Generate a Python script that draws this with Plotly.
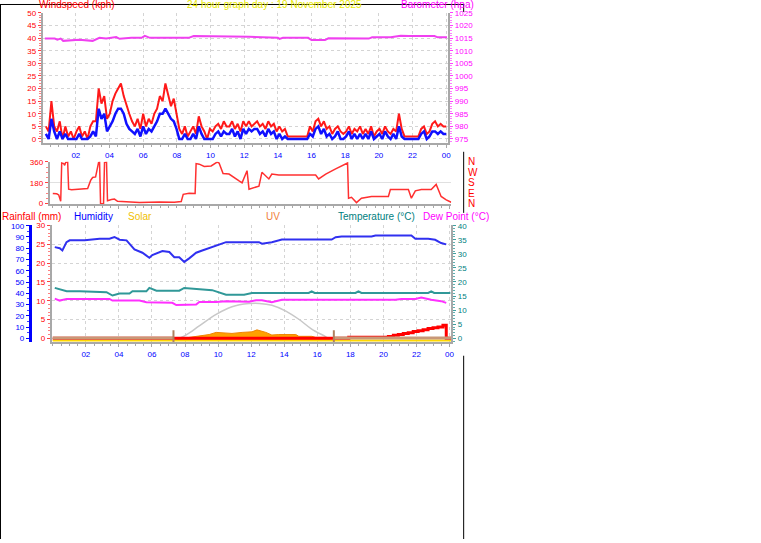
import numpy as np
import plotly.graph_objects as go

W, H = 761, 543
def px(x): return x / W
def py(y): return 1 - y / H

FONT = "Liberation Sans"

# ---------------- data ----------------
hour_ticks = [2, 4, 6, 8, 10, 12, 14, 16, 18, 20, 22, 24]
hour_labels = ["02", "04", "06", "08", "10", "12", "14", "16", "18", "20", "22", "00"]
half_hours = list(np.arange(0, 24.5, 0.5))

# wind, 10-minute samples
wind_time = np.linspace(0.22, 24.0, 145)
wind_gust = [
    5, 3, 15, 5, 3, 7,
    0, 5, 1, 3, 0, 3,
    5, 1, 3, 0, 5, 7,
    7, 20, 14, 17, 8, 10,
    15, 18, 20, 22, 17, 13,
    10, 7, 5, 8, 4, 10,
    5, 8, 6, 10, 12, 17,
    15, 22, 18, 13, 16, 10,
    4, 2, 5, 1, 3, 5,
    2, 9, 5, 3, 0, 4,
    3, 5, 6, 4, 7, 5,
    5, 7, 4, 6, 3, 7,
    5, 7, 5, 6, 7, 5,
    6, 4, 7, 5, 6, 3,
    5, 3, 4, 1, 1, 1,
    1, 1, 1, 1, 1, 5,
    3, 7, 8, 5, 7, 4,
    5, 2, 4, 5, 3, 2,
    3, 5, 2, 4, 3, 5,
    2, 4, 2, 5, 1, 3,
    4, 2, 5, 3, 2, 4,
    3, 10, 4, 1, 1, 1,
    1, 1, 1, 4, 5, 2,
    3, 6, 7, 5, 6, 5,
    5]
wind_avg = [
    2, 0, 8, 3, 0, 3,
    0, 2, 0, 0, 0, 0,
    2, 0, 0, 0, 1, 3,
    1, 12, 8, 10, 3, 5,
    7, 10, 12, 12, 10, 6,
    4, 3, 2, 4, 1, 5,
    2, 4, 3, 5, 7, 10,
    10, 12, 10, 8, 7, 4,
    0, 0, 2, 0, 0, 2,
    0, 5, 2, 0, 0, 0,
    0, 2, 3, 1, 3, 2,
    2, 4, 1, 3, 0, 4,
    2, 4, 3, 4, 4, 2,
    3, 1, 4, 2, 3, 0,
    2, 0, 1, 0, 0, 0,
    0, 0, 0, 0, 0, 2,
    1, 4, 5, 2, 4, 1,
    2, 0, 1, 3, 0, 0,
    1, 3, 0, 2, 0, 2,
    0, 2, 0, 3, 0, 1,
    2, 0, 3, 1, 0, 2,
    0, 5, 1, 0, 0, 0,
    0, 0, 0, 2, 3, 0,
    1, 3, 3, 2, 3, 2,
    2]

baro_time = [0.16, 0.75, 0.9, 1.1, 1.25, 2.2, 3.0, 3.4, 3.8, 4.4, 4.6, 5.3, 5.9, 6.1,
             6.4, 7.5, 8.7, 9.0, 11.2, 11.7, 12.3, 14.0, 14.1, 14.3, 15.8, 16.0, 16.8,
             17.0, 17.8, 17.9, 18.6, 18.8, 19.4, 19.6, 20.7, 21.3, 21.8, 23.3, 23.5, 24.05]
baro_hpa = [1014.8, 1014.8, 1014.4, 1014.8, 1013.9, 1014.3, 1013.9, 1015.1, 1014.8, 1015.4,
            1014.7, 1015.1, 1015.1, 1015.9, 1015.1, 1015.1, 1015.1, 1015.8, 1015.8, 1015.5,
            1015.5, 1015.1, 1014.7, 1015.1, 1015.1, 1014.2, 1014.2, 1014.9, 1014.9, 1014.6,
            1014.6, 1014.8, 1014.8, 1015.3, 1015.3, 1015.9, 1015.8, 1015.8, 1015.3, 1015.3]

dir_time = [0.0, 0.24, 0.36, 0.42, 0.48, 0.54, 0.66, 0.72, 0.78, 0.90, 0.96, 1.14, 1.63, 2.11,
            2.29, 2.41, 2.59, 2.77, 2.83, 2.89, 3.07, 3.13, 3.25, 3.31, 3.55, 3.73, 3.92, 4.34,
            5.24, 6.45, 7.35, 7.77, 7.89, 8.25, 8.61, 8.67, 8.86, 9.16, 9.58, 9.94, 10.06, 10.30,
            10.66, 11.27, 11.45, 11.75, 11.87, 12.47, 12.65, 13.07, 13.25, 13.67, 14.88, 15.90,
            16.08, 16.51, 17.11, 17.77, 17.83, 17.89, 18.07, 18.37, 18.67, 19.28, 20.30, 20.42,
            21.51, 21.69, 21.93, 22.29, 22.89, 23.19, 23.49, 23.80, 24.10]
dir_deg = [88, 85, 75, 40, 20, 350, 345, 330, 355, 360, 125, 120, 125, 130,
           200, 225, 230, 355, 360, 0, 0, 355, 360, 25, 35, 40, 20, 15,
           10, 15, 12, 18, 80, 90, 88, 345, 340, 320, 325, 358, 350, 260,
           255, 196, 180, 284, 125, 151, 270, 213, 255, 246, 246, 246,
           213, 255, 300, 344, 350, 47, 55, 9, 47, 62, 62, 122,
           122, 47, 110, 122, 122, 166, 62, 33, 12]

hum_time = [0.12, 0.42, 0.58, 0.83, 1.02, 1.93, 2.83, 3.43, 3.73, 4.04, 4.46, 4.64, 4.94, 5.42,
            5.84, 6.02, 6.63, 7.05, 7.35, 7.65, 7.95, 8.25, 8.67, 9.04, 9.64, 10.48, 12.47,
            12.65, 13.25, 13.86, 16.87, 17.11, 17.47, 19.28, 19.52, 21.69, 21.93, 22.71, 23.13,
            23.49, 23.80]
hum_pct = [81, 80, 78, 85.4, 87, 87, 88.5, 88.5, 90, 87.6, 87, 84, 79, 76,
           71.6, 74, 77.5, 76.6, 72, 72, 67.9, 71, 76, 78, 81, 85.4, 85.4,
           84, 85.4, 87.7, 87.7, 89.8, 90.4, 90.4, 91.3, 91.3, 88.5, 88.5, 87.5,
           84.6, 83.4]

temp_time = [0.12, 0.42, 0.84, 1.63, 2.53, 3.25, 3.61, 4.04, 4.64, 4.82, 5.66, 5.84, 6.27, 7.65,
             7.95, 8.86, 9.64, 10.48, 11.57, 12.05, 15.48, 15.66, 15.84, 18.31, 18.49, 18.67,
             22.71, 22.89, 23.07, 24.05]
temp_c = [17.9, 17.5, 16.7, 16.7, 16.4, 16.4, 15.2, 15.9, 15.9, 16.7, 16.7, 17.9, 16.9, 16.9,
          17.9, 17.4, 17.1, 15.5, 15.5, 16.1, 16.1, 16.7, 16.1, 16.1, 16.7, 16.1,
          16.1, 16.7, 16.1, 16.1]

dew_time = [0.12, 0.42, 0.84, 3.43, 3.61, 5.24, 5.66, 6.02, 6.45, 7.23, 7.47, 8.07, 8.67, 8.86,
            9.88, 10.48, 11.87, 12.29, 12.65, 13.25, 13.86, 20.72, 21.08, 21.93, 22.29, 22.89,
            23.49, 23.80]
dew_c = [14.1, 13.4, 14.0, 14.0, 13.4, 13.4, 12.8, 12.8, 12.6, 12.6, 11.8, 11.8, 12.0, 12.9,
         12.9, 13.2, 13.0, 13.5, 13.5, 12.8, 13.7, 13.7, 14.0, 14.0, 14.5, 13.7,
         13.2, 12.6]

rain_time = [0.0, 17.9, 20.3, 20.6, 20.9, 21.2, 21.5, 21.8, 22.1, 22.4, 22.7, 23.0, 23.3, 23.6, 23.8, 24.1]
rain_mm = [0.0, 0.3, 0.5, 0.8, 1.0, 1.3, 1.5, 1.8, 2.0, 2.3, 2.6, 2.8, 3.0, 3.5, 0.0, 0.0]

solar_max_time = [7.35, 8.07, 8.86, 9.88, 10.84, 11.87, 12.5, 13.25, 14.1, 14.88, 15.66, 16.5, 16.87]
solar_max = [0, 60, 155, 278, 359, 393, 395, 375, 313, 226, 121, 40, 0]

solar_time = [0.0, 7.35, 7.95, 8.86, 9.46, 9.88, 10.36, 10.84, 11.45, 11.87, 12.05, 12.35, 12.59,
              12.89, 13.25, 13.67, 14.7, 14.88, 15.66, 15.9, 16.5, 16.8, 24.1]
solar_wm2 = [0, 0, 25, 44, 63, 86, 78, 75, 86, 88, 92, 113, 103,
             86, 58, 63, 63, 44, 44, 33, 33, 0, 0]

uv_time = [0.0, 7.3, 12.0, 17.0, 24.1]
uv_index = [0, 0, None, 0, 0]

sun_events = [7.3, 17.0]

# ---------------- figure ----------------
fig = go.Figure()

# panel 1
fig.add_trace(go.Scatter(x=wind_time, y=wind_gust, mode="lines", xaxis="x", yaxis="y",
                         line=dict(color="rgba(255,0,0,0.9)", width=2)))
fig.add_trace(go.Scatter(x=wind_time, y=wind_avg, mode="lines", xaxis="x", yaxis="y",
                         line=dict(color="#1010ff", width=2.5)))
fig.add_trace(go.Scatter(x=baro_time, y=baro_hpa, mode="lines", xaxis="x", yaxis="y2",
                         line=dict(color="#f040f0", width=2)))
# panel 2
fig.add_trace(go.Scatter(x=dir_time, y=dir_deg, mode="lines", xaxis="x2", yaxis="y3",
                         line=dict(color="#ff3030", width=1.5)))
# panel 3 (base: solar)
fig.add_trace(go.Scatter(x=solar_max_time, y=solar_max, mode="lines", xaxis="x3", yaxis="y4",
                         line=dict(color="#c8c8c8", width=1.5, shape="spline")))
fig.add_trace(go.Scatter(x=solar_time, y=solar_wm2, mode="lines", xaxis="x3", yaxis="y4",
                         fill="tozeroy", fillcolor="#ffa000",
                         line=dict(color="#f08400", width=1)))
fig.add_trace(go.Scatter(x=[solar_time[0], solar_time[-1]], y=[solar_wm2[0], solar_wm2[-1]],
                         mode="lines", xaxis="x3", yaxis="y4",
                         line=dict(color="#ffd800", width=2)))
fig.add_trace(go.Scatter(x=rain_time, y=rain_mm, mode="lines", xaxis="x3", yaxis="y5",
                         line=dict(color="#ff0000", width=3, shape="hv")))
fig.add_trace(go.Scatter(x=hum_time, y=hum_pct, mode="lines", xaxis="x3", yaxis="y6",
                         line=dict(color="#3030f0", width=2)))
fig.add_trace(go.Scatter(x=temp_time, y=temp_c, mode="lines", xaxis="x3", yaxis="y7",
                         line=dict(color="#309898", width=2)))
fig.add_trace(go.Scatter(x=dew_time, y=dew_c, mode="lines", xaxis="x3", yaxis="y7",
                         line=dict(color="#ff30ff", width=2)))
fig.add_trace(go.Scatter(x=uv_time, y=uv_index, mode="lines", xaxis="x3", yaxis="y8",
                         line=dict(color="#c89878", width=3)))

GRAY = "#a8a8a8"
GRID = "#d4d4d4"
tickfont = lambda c: dict(family=FONT, size=8, color=c)

def xaxis_cfg(dom, rng, anchor, labels=True, grid=True):
    return dict(domain=dom, range=rng, anchor=anchor, tickmode="array",
                tickvals=hour_ticks, ticktext=hour_labels, showticklabels=labels,
                tickfont=tickfont("#0000ff"), ticks="outside", ticklen=3, tickcolor=GRAY,
                showline=True, linecolor=GRAY, linewidth=2, zeroline=False,
                showgrid=grid, gridcolor=GRID, griddash="dot", gridwidth=1,
                minor=dict(tickmode="array", tickvals=half_hours, ticks="outside",
                           ticklen=2, tickcolor=GRAY, showgrid=False))

def yaxis_cfg(**kw):
    base = dict(zeroline=False, showline=True, linecolor=GRAY, linewidth=2,
                ticks="outside", ticklen=3, showgrid=False)
    base.update(kw)
    return base

d1 = [py(141), py(9)]
d2 = [py(203), py(160)]
d3 = [py(343), py(224)]

fig.update_layout(
    width=W, height=H, margin=dict(l=0, r=0, t=0, b=0),
    paper_bgcolor="white", plot_bgcolor="white", showlegend=False,
    xaxis=xaxis_cfg([px(43), px(450)], [0.04, 24.12], "y"),
    xaxis2=xaxis_cfg([px(50), px(453)], [-0.18, 24.1], "y3", labels=False, grid=False),
    xaxis3=xaxis_cfg([px(52), px(453)], [-0.06, 24.1], "y4"),
    yaxis=yaxis_cfg(domain=d1, range=[-1.56, 50], anchor="x", tickmode="linear", tick0=0, dtick=5,
                    tickfont=tickfont("#ff0000"), tickcolor="#ff4040",
                    showgrid=True, gridcolor=GRID, griddash="dot",
                    minor=dict(dtick=1, ticks="outside", ticklen=2, tickcolor="#ff8080")),
    yaxis2=yaxis_cfg(overlaying="y", side="right", anchor="x", range=[973.44, 1025],
                     tickmode="linear", tick0=975, dtick=5, tickfont=tickfont("#ff00ff"),
                     tickcolor="#ff40ff",
                     minor=dict(dtick=1, ticks="outside", ticklen=2, tickcolor="#ff80ff")),
    yaxis3=yaxis_cfg(domain=d2, range=[-3, 362], anchor="x2", tickmode="array",
                     tickvals=[0, 180, 360], ticktext=["0", "180", "360"],
                     tickfont=tickfont("#ff0000"), tickcolor="#ff4040",
                     showgrid=True, gridcolor="#e0e0e0",
                     minor=dict(tickmode="linear", tick0=0, dtick=45, ticks="outside",
                                ticklen=2, tickcolor="#ff8080")),
    yaxis4=dict(domain=d3, range=[-15.75, 1233.6], anchor="x3", visible=False),
    yaxis5=yaxis_cfg(overlaying="y4", anchor="x3", side="left", range=[-0.97, 30.26],
                     tickmode="linear", tick0=0, dtick=5, tickfont=tickfont("#ff0000"),
                     tickcolor="#ff4040", showgrid=True, gridcolor=GRID, griddash="dot",
                     minor=dict(dtick=1, ticks="outside", ticklen=2, tickcolor="#ff8080")),
    yaxis6=yaxis_cfg(overlaying="y4", anchor="free", position=px(30), side="left",
                     range=[-3.23, 100.9], tickmode="linear", tick0=0, dtick=10,
                     tickfont=tickfont("#0000ff"), tickcolor="#0000ff",
                     linecolor="#0000ff", linewidth=3,
                     minor=dict(dtick=5, ticks="outside", ticklen=2, tickcolor="#4040ff")),
    yaxis7=yaxis_cfg(overlaying="y4", anchor="x3", side="right", range=[-1.29, 40.35],
                     tickmode="linear", tick0=0, dtick=5, tickfont=tickfont("#008080"),
                     tickcolor="#40a0a0",
                     minor=dict(dtick=1, ticks="outside", ticklen=2, tickcolor="#60b0b0")),
    yaxis8=dict(overlaying="y4", anchor="x3", range=[-0.35, 10], visible=False),
)

# sunrise / sunset markers
for t in sun_events:
    fig.add_shape(type="line", xref="x3", yref="y4 domain", x0=t, x1=t, y0=0, y1=0.1,
                  line=dict(color="#b08060", width=2))

# black page borders
for (x0, y0, x1, y1) in [(0.5, 0, 0.5, 543), (0, 0.5, 466, 0.5),
                         (465.5, 0, 465.5, 8), (465.5, 150, 465.5, 212), (465.5, 357, 465.5, 543)]:
    fig.add_shape(type="line", xref="paper", yref="paper", x0=px(x0), x1=px(x1),
                  y0=py(y0), y1=py(y1), line=dict(color="black", width=1), layer="above")

def label(text, x, y, color, anchor="left", size=10):
    fig.add_annotation(text=text, xref="paper", yref="paper", x=px(x), y=py(y),
                       xanchor=anchor, yanchor="middle", showarrow=False,
                       font=dict(family=FONT, size=size, color=color))

label("Windspeed (kph)", 37, 0.5, "#ff0000")
label("24 hour graph day : 19 November 2025", 186, 0.5, "#e8e800")
label("Barometer (hpa)", 401, 0.5, "#ff00ff")
label("Rainfall (mm)", 0, 215.5, "#ff0000")
label("Humidity", 72, 215.5, "#0000ff")
label("Solar", 127, 215.5, "#f0c000")
label("UV", 265, 215.5, "#f08040")
label("Temperature (°C)", 337, 215.5, "#008080")
label("Dew Point (°C)", 423, 215.5, "#ff00ff")

for deg, letter in zip([360, 270, 180, 90, 0], ["N", "W", "S", "E", "N"]):
    fig.add_annotation(text=letter, xref="paper", yref="y3", x=px(468), y=deg,
                       xanchor="left", yanchor="middle", showarrow=False,
                       font=dict(family=FONT, size=10, color="#ff0000"))

fig.write_html("out.html", config={"displayModeBar": False},
               post_script="document.body.style.margin='0px';")
